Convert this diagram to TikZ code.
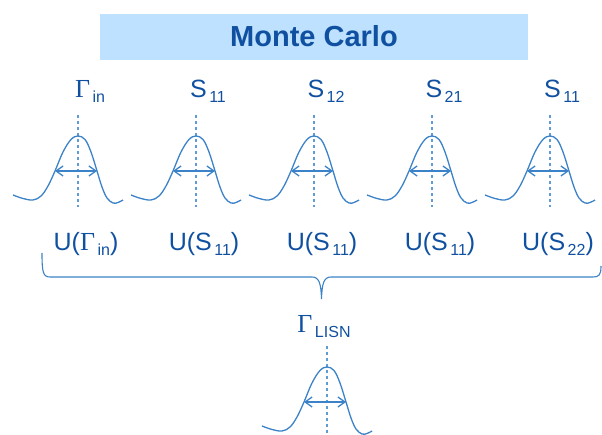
\documentclass[tikz,border=0pt]{standalone}
\usepackage{fontspec}
\setmainfont{Liberation Sans}
\newfontfamily\greekfont{Liberation Serif}
\usetikzlibrary{arrows.meta}

\definecolor{mcblue}{RGB}{16,80,160}
\definecolor{mcfill}{RGB}{189,225,255}
\definecolor{curveblue}{RGB}{60,130,200}
\definecolor{dotblue}{RGB}{95,155,215}

\newcommand{\Gam}{{\greekfont\fontsize{26}{26}\selectfont Γ}}
\newcommand{\sbs}[1]{\hspace{2.5pt}\raisebox{-5pt}{\fontsize{16}{16}\selectfont #1}}

\tikzset{
  pdf/.pic={
    \draw[dotblue, line width=1.4pt, dash pattern=on 3pt off 3pt] (0,-21) -- (0,71);
    \draw[curveblue, line width=1.3pt] plot[smooth, tension=0.6] coordinates {
      (-65,59) (-55,62.5) (-45,64) (-37,60) (-30,50) (-23,35) (-15,16) (-7,3.5)
      (0,0) (7,3.5) (13,16) (19,35) (24,51) (29,62) (35,67) (40,66.5) (45,64)};
    \draw[curveblue, line width=1.3pt,
      {Straight Barb[length=7pt,width=10pt]}-{Straight Barb[length=7pt,width=10pt]}]
      (-23,35) -- (19,35);
  }
}

\begin{document}
\begin{tikzpicture}[x=1pt, y=-1pt,
  lbl/.style={text=mcblue, inner sep=0pt, anchor=base, font=\fontsize{25}{25}\selectfont},
  title/.style={text=mcblue, inner sep=0pt, anchor=base, font=\bfseries\fontsize{29}{29}\selectfont}]

  \clip (0,0) rectangle (602,435);

  % --- Banner ---
  \fill[mcfill] (100,14) rectangle (528,60);
  \node[title] (mc) at (314,47) {Monte Carlo};

  % --- Distribuciones de entrada ---
  \foreach \cx/\nm/\tx/\ux [count=\i] in {
      78/in/{\Gam\sbs{in}}/{U(\Gam\sbs{in})},
      196/s11/{S\sbs{11}}/{U(S\sbs{11})},
      314/s12/{S\sbs{12}}/{U(S\sbs{11})},
      432/s21/{S\sbs{21}}/{U(S\sbs{11})},
      550/s11b/{S\sbs{11}}/{U(S\sbs{22})}} {
    \node[lbl] (t\i) at (\cx+12,98) {\tx};
    \pic at (\cx,136) {pdf};
    \node[lbl] (u\i) at (\cx+8,250.5) {\ux};
  }

  % --- Llave ---
  \coordinate (bl) at (42,253);
  \coordinate (br) at (601,266);
  \coordinate (tip) at (321.5,299);
  \draw[curveblue, line width=1.1pt] (bl) .. controls (42,272) and (43,277) .. (50,277)
    -- (312,277) .. controls (319,277) and (321,283) .. (tip)
    .. controls (322,283) and (324,277) .. (331,277)
    -- (593,277) .. controls (599,277) and (601,275) .. (br);

  % --- Resultado ---
  \node[lbl] (lisn) at (324,333) {\Gam\sbs{LISN}};
  \pic at (327,367) {pdf};

\end{tikzpicture}
\end{document}
